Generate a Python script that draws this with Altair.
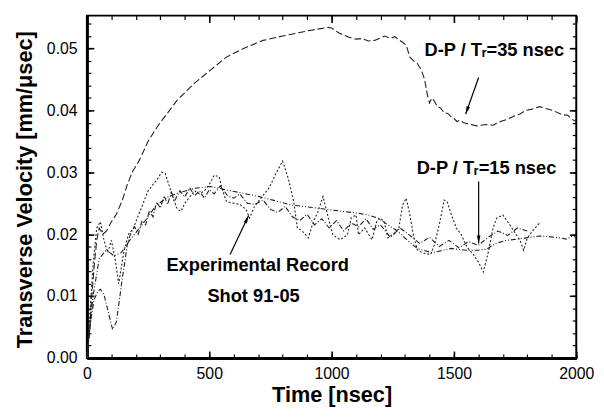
import math
import altair as alt
import pandas as pd

# ---------------- data ----------------
# D-P / Tr = 35 nsec (long dashes)
t35 = [0, 10, 20, 30, 40, 50, 65, 80, 100, 120, 145, 165, 185, 215, 250, 290, 330, 370, 440, 505,
       570, 640, 720, 800, 910, 985, 1000, 1030, 1070, 1100, 1125, 1150, 1175, 1200, 1218, 1240,
       1258, 1290, 1305, 1320, 1335, 1350, 1367, 1380, 1390, 1400, 1410, 1420, 1432, 1445, 1460,
       1475, 1488, 1500, 1512, 1525, 1540, 1560, 1593, 1633, 1660, 1690, 1715, 1742, 1770, 1794,
       1820, 1851, 1875, 1903, 1943, 1965, 1984, 2000]
v35 = [0, 0.004, 0.010, 0.015, 0.019, 0.021, 0.020, 0.0205, 0.022, 0.0232, 0.0255, 0.028, 0.030,
       0.032, 0.035, 0.0375, 0.0396, 0.0417, 0.0444, 0.0465, 0.0486, 0.050, 0.0513, 0.052, 0.0529,
       0.0534, 0.0533, 0.0525, 0.0518, 0.0515, 0.0516, 0.0512, 0.0513, 0.0517, 0.052, 0.0516,
       0.0519, 0.051, 0.0505, 0.0486, 0.048, 0.0476, 0.0465, 0.045, 0.0428, 0.0412, 0.042, 0.0415,
       0.0406, 0.0404, 0.0396, 0.0395, 0.039, 0.0387, 0.0382, 0.0384, 0.038, 0.0378, 0.0375,
       0.0377, 0.0376, 0.0382, 0.0385, 0.039, 0.0394, 0.040, 0.0402, 0.0406, 0.0403, 0.040,
       0.0393, 0.0392, 0.0385, 0.0382]

# D-P / Tr = 15 nsec (smooth dash-dot-dot)
t15 = [0, 25, 50, 80, 110, 140, 175, 205, 235, 280, 330, 370, 440, 505, 575, 640, 700, 760, 835,
       945, 1000, 1105, 1150, 1190, 1230, 1270, 1310, 1350, 1410, 1490, 1550, 1600, 1635, 1670,
       1715, 1760, 1795, 1850, 1890, 1930, 1960, 1985, 2000]
v15 = [0, 0.010, 0.016, 0.0175, 0.0165, 0.017, 0.019, 0.0205, 0.022, 0.0245, 0.026, 0.0266,
       0.0274, 0.0277, 0.0271, 0.0266, 0.0261, 0.0255, 0.0247, 0.0242, 0.0239, 0.0234, 0.0231,
       0.0226, 0.0215, 0.0205, 0.019, 0.0177, 0.0170, 0.0177, 0.0174, 0.0174, 0.0176, 0.0185,
       0.019, 0.0192, 0.0194, 0.0197, 0.0196, 0.0194, 0.0192, 0.0197, 0.0195]

# Experimental record, shot 91-05 (spiky, dotted)
t_exp = [0, 10, 25, 40, 55, 70, 85, 100, 115, 130, 150, 170, 190, 210, 230, 250, 270, 290, 305,
         320, 335, 350, 370, 385, 400, 420, 440, 460, 480, 500, 520, 540, 555, 570, 600, 625, 650,
         665, 685, 715, 745, 775, 800, 823, 845, 860, 880, 905, 925, 945, 965, 990, 1005, 1035,
         1065, 1080, 1100, 1110, 1135, 1165, 1185, 1200, 1215, 1230, 1260, 1275, 1290, 1305, 1320,
         1335, 1350, 1370, 1405, 1420, 1440, 1460, 1472, 1490, 1510, 1530, 1555, 1580, 1600, 1620,
         1640, 1660, 1675, 1700, 1720, 1745, 1770, 1785, 1800, 1825, 1850]
v_exp = [0, 0.006, 0.015, 0.021, 0.022, 0.019, 0.017, 0.019, 0.016, 0.012, 0.017, 0.020, 0.021,
         0.023, 0.025, 0.027, 0.028, 0.029, 0.030, 0.0298, 0.028, 0.026, 0.024, 0.0237, 0.025,
         0.026, 0.027, 0.0265, 0.027, 0.028, 0.0295, 0.0293, 0.027, 0.0253, 0.025, 0.0248, 0.024,
         0.0226, 0.0245, 0.026, 0.0275, 0.030, 0.0318, 0.029, 0.0253, 0.021, 0.0205, 0.0194,
         0.022, 0.0237, 0.0261, 0.0221, 0.0199, 0.0191, 0.0199, 0.0226, 0.0231, 0.0199, 0.021,
         0.0191, 0.0221, 0.0226, 0.022, 0.0194, 0.0202, 0.021, 0.0247, 0.0258, 0.0231, 0.0197,
         0.0175, 0.017, 0.0167, 0.0183, 0.0215, 0.0255, 0.0253, 0.0231, 0.021, 0.0199, 0.0178,
         0.0167, 0.0155, 0.0139, 0.017, 0.021, 0.0226, 0.0231, 0.022, 0.0205, 0.019, 0.0174,
         0.0194, 0.0207, 0.0218]

# second jagged trace (dash-dot)
t_j = [0, 15, 30, 45, 55, 70, 85, 105, 120, 133, 145, 155, 165, 177, 195, 210, 225, 240, 255, 270,
       285, 300, 315, 330, 345, 360, 380, 400, 420, 440, 460, 480, 500, 520, 545, 575, 600, 625,
       655, 685, 720, 750, 780, 810, 840, 870, 900, 930, 960, 990, 1020, 1050, 1080, 1110, 1140,
       1170, 1200, 1240, 1280, 1320, 1360, 1400, 1440, 1480, 1520, 1560, 1600, 1640, 1680, 1720,
       1760, 1800]
v_j = [0, 0.006, 0.0095, 0.0108, 0.0111, 0.0102, 0.0078, 0.0046, 0.0058, 0.0094, 0.013, 0.0155,
       0.0183, 0.0199, 0.0212, 0.020, 0.0222, 0.0215, 0.0238, 0.0228, 0.0252, 0.0242, 0.0262,
       0.0248, 0.0268, 0.0255, 0.027, 0.026, 0.0275, 0.0262, 0.027, 0.0258, 0.0272, 0.0265,
       0.0278, 0.0262, 0.0258, 0.0265, 0.025, 0.0248, 0.0255, 0.024, 0.0235, 0.0245, 0.0228,
       0.0222, 0.0232, 0.0215, 0.0225, 0.021, 0.0222, 0.0205, 0.0218, 0.0212, 0.0225, 0.0208,
       0.0215, 0.0195, 0.021, 0.0198, 0.0185, 0.0195, 0.018, 0.019, 0.0178, 0.0188, 0.0182,
       0.0195, 0.0205, 0.0198, 0.021, 0.0205]

# annotations
ann_text = ["D-P / T\u1d63=35 nsec", "D-P / T\u1d63=15 nsec", "Experimental Record", "Shot 91-05"]
ann_t = [1665, 1633, 698, 681]
ann_v = [0.0497, 0.0306, 0.0150, 0.0100]

# arrows: start -> tip
arr_t0 = [1601, 1601, 585]
arr_v0 = [0.0453, 0.0285, 0.0167]
arr_t1 = [1548, 1601, 661]
arr_v1 = [0.0394, 0.0185, 0.0230]

# axes
x_major = [0, 500, 1000, 1500, 2000]
x_minor = list(range(0, 2001, 100))
y_major = [0.0, 0.01, 0.02, 0.03, 0.04, 0.05]
y_minor = [round(i * 0.002, 3) for i in range(0, 28)]

# ---------------- chart ----------------
W, H = 496, 347
X_DOMAIN = [0, 2000]
Y_DOMAIN = [0, 0.0553]
xs = alt.Scale(domain=X_DOMAIN, nice=False, zero=False)
ys = alt.Scale(domain=Y_DOMAIN, nice=False, zero=False)
FONT = "Liberation Sans"
INK = "#202020"


def line_layer(t, v, dash, width=1.1):
    df = pd.DataFrame({"t": t, "v": v})
    return alt.Chart(df).mark_line(color=INK, strokeWidth=width, strokeDash=dash).encode(
        x=alt.X("t:Q", scale=xs, axis=None),
        y=alt.Y("v:Q", scale=ys, axis=None),
    )


main_axes = alt.Chart(pd.DataFrame({"t": x_major, "v": y_major[:5]})).mark_point(opacity=0).encode(
    x=alt.X("t:Q", scale=xs, axis=alt.Axis(
        orient="bottom", values=x_major, format="d", title="Time [nsec]", ticks=False, tickSize=0,
        labelPadding=8, labelFlush=False, labelFontSize=16, domain=True, domainWidth=3,
        domainColor="black", grid=False, titleFontSize=22, titleFontWeight="bold",
        titleBaseline="alphabetic", titleY=44)),
    y=alt.Y("v:Q", scale=ys, axis=alt.Axis(
        orient="left", values=y_major, format=".2f", title="Transverse Velocity [mm/\u03bcsec]",
        ticks=False, tickSize=0, labelPadding=10, labelFontSize=16, domain=True, domainWidth=3,
        domainColor="black", grid=False, titleFontSize=22, titleFontWeight="bold",
        titleAngle=-90, titleBaseline="alphabetic", titleAlign="center", titleX=-56, titleY=176)),
)


def xtick_layer(orient, vals, size, width):
    return alt.Chart(pd.DataFrame({"t": vals})).mark_point(opacity=0).encode(
        x=alt.X("t:Q", scale=xs, title=None, axis=alt.Axis(
            orient=orient, values=vals, offset=-size, tickSize=size, tickWidth=width,
            tickColor="black", labels=False, domain=False, grid=False)),
    )


def ytick_layer(orient, vals, size, width):
    return alt.Chart(pd.DataFrame({"v": vals})).mark_point(opacity=0).encode(
        y=alt.Y("v:Q", scale=ys, title=None, axis=alt.Axis(
            orient=orient, values=vals, offset=-size, tickSize=size, tickWidth=width,
            tickColor="black", labels=False, domain=False, grid=False)),
    )


tick_layers = [
    xtick_layer("bottom", x_major, 7, 1.6), xtick_layer("bottom", x_minor, 4, 1.2),
    xtick_layer("top", x_major, 7, 1.6), xtick_layer("top", x_minor, 4, 1.2),
    ytick_layer("left", y_major, 7, 1.6), ytick_layer("left", y_minor, 4, 1.2),
    ytick_layer("right", y_major, 7, 1.6), ytick_layer("right", y_minor, 4, 1.2),
]

s35 = line_layer(t35, v35, [7, 3])
s15 = line_layer(t15, v15, [5, 2, 1, 2, 1, 2])
sexp = line_layer(t_exp, v_exp, [2, 2])
sj = line_layer(t_j, v_j, [5, 2, 1, 2])

# arrow angles from the drawn slope (pixels)
kx = W / (X_DOMAIN[1] - X_DOMAIN[0])
ky = H / (Y_DOMAIN[1] - Y_DOMAIN[0])
angles = []
for a, b, c, d in zip(arr_t0, arr_v0, arr_t1, arr_v1):
    dx = (c - a) * kx
    dy = -(d - b) * ky
    angles.append(math.degrees(math.atan2(dx, -dy)) % 360)

arr_df = pd.DataFrame({"t0": arr_t0, "v0": arr_v0, "t1": arr_t1, "v1": arr_v1, "ang": angles})
arrows = alt.Chart(arr_df).mark_rule(color="black", strokeWidth=1.2).encode(
    x=alt.X("t0:Q", scale=xs, axis=None), y=alt.Y("v0:Q", scale=ys, axis=None),
    x2="t1:Q", y2="v1:Q",
)
heads = alt.Chart(arr_df).mark_point(
    shape="M0,0L0.45,2L-0.45,2Z", filled=True, size=64, color="black", opacity=1
).encode(
    x=alt.X("t1:Q", scale=xs, axis=None), y=alt.Y("v1:Q", scale=ys, axis=None),
    angle=alt.Angle("ang:Q", scale=None),
)

ann_df = pd.DataFrame({"t": ann_t, "v": ann_v, "text": ann_text})
labels = alt.Chart(ann_df).mark_text(
    font=FONT, fontSize=18.5, fontWeight="bold", color="black", align="center", baseline="middle"
).encode(
    x=alt.X("t:Q", scale=xs, axis=None), y=alt.Y("v:Q", scale=ys, axis=None), text="text:N",
)

chart = alt.layer(
    main_axes, *tick_layers, s35, s15, sexp, sj, arrows, heads, labels
).resolve_axis(x="independent", y="independent").properties(
    width=W, height=H,
    autosize=alt.AutoSizeParams(type="none"),
    padding={"left": 80, "top": 5, "right": 20, "bottom": 50},
).configure_view(stroke="black", strokeWidth=2).configure_axis(
    labelFont=FONT, titleFont=FONT, labelColor="black", titleColor="black"
)

chart.save("out.html", embed_options={"renderer": "svg", "actions": False})
